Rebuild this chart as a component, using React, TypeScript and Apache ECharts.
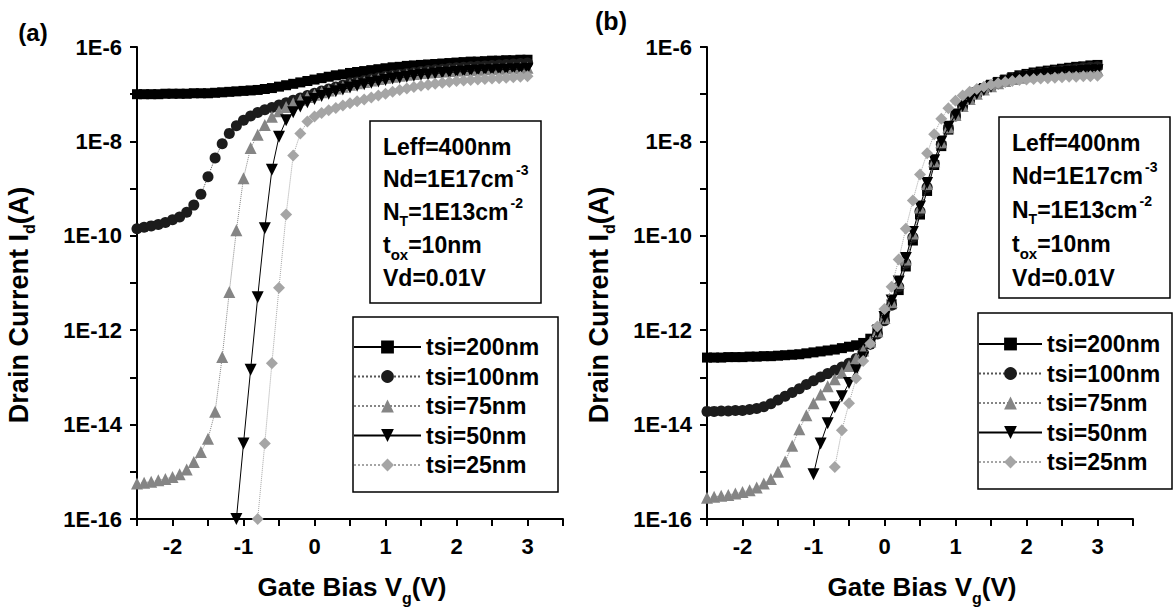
import React, { useEffect, useRef } from 'react';
import * as echarts from 'echarts';

// Gate bias (V)
const vg = [-2.5, -2.4, -2.3, -2.2, -2.1, -2.0, -1.9, -1.8, -1.7, -1.6, -1.5, -1.4, -1.3, -1.2, -1.1,
  -1.0, -0.9, -0.8, -0.7, -0.6, -0.5, -0.4, -0.3, -0.2, -0.1, 0, 0.1, 0.2, 0.3, 0.4, 0.5, 0.6, 0.7, 0.8,
  0.9, 1.0, 1.1, 1.2, 1.3, 1.4, 1.5, 1.6, 1.7, 1.8, 1.9, 2.0, 2.1, 2.2, 2.3, 2.4, 2.5, 2.6, 2.7, 2.8, 2.9, 3.0];

const seriesNames = ['tsi=200nm', 'tsi=100nm', 'tsi=75nm', 'tsi=50nm', 'tsi=25nm'];

// Panel (a): log10 of drain current (A)
const a200 = [-7.00, -7.00, -7.00, -7.00, -6.99, -6.99, -6.99, -6.99, -6.98, -6.98, -6.98, -6.97, -6.96, -6.95, -6.94,
  -6.93, -6.92, -6.91, -6.89, -6.87, -6.84, -6.81, -6.78, -6.75, -6.72, -6.69, -6.66, -6.63, -6.60, -6.58,
  -6.55, -6.53, -6.51, -6.49, -6.47, -6.45, -6.43, -6.42, -6.40, -6.39, -6.38, -6.37, -6.36, -6.35, -6.34,
  -6.33, -6.32, -6.31, -6.31, -6.30, -6.29, -6.29, -6.28, -6.28, -6.27, -6.27];
const a100 = [-9.85, -9.82, -9.79, -9.76, -9.72, -9.66, -9.60, -9.50, -9.35, -9.12, -8.75, -8.35, -8.05, -7.83, -7.67,
  -7.55, -7.46, -7.39, -7.33, -7.28, -7.23, -7.18, -7.13, -7.08, -7.03, -6.98, -6.93, -6.89, -6.85, -6.81,
  -6.77, -6.74, -6.71, -6.68, -6.65, -6.62, -6.60, -6.58, -6.56, -6.54, -6.52, -6.50, -6.48, -6.47, -6.45,
  -6.44, -6.43, -6.42, -6.41, -6.40, -6.39, -6.38, -6.37, -6.36, -6.35, -6.34];
const a75 = [-15.25, -15.23, -15.21, -15.18, -15.15, -15.11, -15.05, -14.95, -14.79, -14.58, -14.30, -13.73, -12.57, -11.19, -9.88,
  -8.78, -8.14, -7.86, -7.65, -7.48, -7.36, -7.27, -7.19, -7.12, -7.06, -7.01, -6.96, -6.92, -6.88, -6.84,
  -6.80, -6.77, -6.74, -6.71, -6.68, -6.65, -6.63, -6.61, -6.59, -6.57, -6.55, -6.54, -6.53, -6.52, -6.51,
  -6.50, -6.49, -6.48, -6.48, -6.47, -6.46, -6.46, -6.45, -6.45, -6.44, -6.44];
const a50 = [null, null, null, null, null, null, null, null, null, null, null, null, null, null,
  -16.0, -14.4, -12.84, -11.3, -9.84, -8.6, -7.9, -7.55, -7.38, -7.26, -7.17, -7.10, -7.04, -6.99, -6.94, -6.90,
  -6.86, -6.82, -6.79, -6.76, -6.73, -6.70, -6.67, -6.65, -6.63, -6.61, -6.59, -6.58, -6.56, -6.55, -6.54,
  -6.53, -6.52, -6.51, -6.50, -6.49, -6.49, -6.48, -6.48, -6.47, -6.47, -6.46];
const a25 = [null, null, null, null, null, null, null, null, null, null, null, null, null, null, null, null, null,
  -16.0, -14.4, -12.7, -11.1, -9.55, -8.3, -7.83, -7.58, -7.47, -7.40, -7.34, -7.29, -7.24,
  -7.19, -7.15, -7.11, -7.07, -7.03, -6.99, -6.95, -6.91, -6.88, -6.85, -6.82, -6.80, -6.78, -6.76, -6.74,
  -6.72, -6.71, -6.70, -6.69, -6.68, -6.67, -6.66, -6.65, -6.64, -6.63, -6.62];

// Panel (b): log10 of drain current (A)
const b200 = [-12.58, -12.58, -12.58, -12.57, -12.57, -12.57, -12.56, -12.56, -12.55, -12.55, -12.54, -12.53, -12.52, -12.51, -12.49,
  -12.47, -12.45, -12.43, -12.41, -12.38, -12.35, -12.32, -12.27, -12.18, -11.98, -11.70, -11.45, -11.15, -10.65, -10.10,
  -9.55, -9.05, -8.50, -8.10, -7.75, -7.45, -7.23, -7.08, -6.96, -6.87, -6.80, -6.74, -6.69, -6.64, -6.60,
  -6.57, -6.54, -6.52, -6.50, -6.48, -6.46, -6.44, -6.42, -6.41, -6.39, -6.38];
const b100 = [-13.72, -13.72, -13.71, -13.71, -13.70, -13.70, -13.68, -13.66, -13.62, -13.56, -13.48, -13.40, -13.32, -13.24, -13.15,
  -13.07, -12.99, -12.92, -12.85, -12.78, -12.70, -12.60, -12.47, -12.30, -12.08, -11.80, -11.47, -11.08, -10.58, -10.03,
  -9.48, -8.97, -8.47, -8.06, -7.73, -7.46, -7.25, -7.10, -6.98, -6.89, -6.82, -6.76, -6.71, -6.67, -6.63,
  -6.60, -6.57, -6.55, -6.53, -6.51, -6.49, -6.47, -6.46, -6.44, -6.43, -6.42];
const b75 = [-15.55, -15.53, -15.51, -15.49, -15.46, -15.43, -15.39, -15.33, -15.25, -15.15, -15.00, -14.78, -14.45, -14.10, -13.80,
  -13.55, -13.36, -13.19, -13.04, -12.90, -12.76, -12.60, -12.43, -12.24, -12.02, -11.74, -11.40, -11.00, -10.50, -9.95,
  -9.40, -8.90, -8.42, -8.02, -7.70, -7.44, -7.25, -7.10, -6.99, -6.90, -6.83, -6.77, -6.72, -6.68, -6.65,
  -6.62, -6.60, -6.58, -6.56, -6.54, -6.53, -6.52, -6.51, -6.50, -6.49, -6.48];
const b50 = [null, null, null, null, null, null, null, null, null, null, null, null, null, null, null,
  -15.05, -14.40, -13.97, -13.63, -13.40, -13.12, -12.85, -12.58, -12.30, -12.02, -11.72, -11.37, -10.97, -10.47, -9.92,
  -9.38, -8.88, -8.40, -8.00, -7.69, -7.43, -7.25, -7.10, -6.99, -6.91, -6.84, -6.78, -6.73, -6.69, -6.66,
  -6.63, -6.61, -6.59, -6.57, -6.55, -6.54, -6.53, -6.52, -6.51, -6.50, -6.49];
const b25 = [null, null, null, null, null, null, null, null, null, null, null, null, null, null, null, null, null, null,
  -14.90, -14.12, -13.55, -13.02, -12.65, -12.28, -11.92, -11.55, -11.08, -10.50, -9.85, -9.25,
  -8.70, -8.25, -7.85, -7.52, -7.30, -7.14, -7.03, -6.95, -6.89, -6.84, -6.80, -6.77, -6.74, -6.72, -6.70,
  -6.69, -6.68, -6.67, -6.66, -6.65, -6.64, -6.63, -6.63, -6.62, -6.62, -6.61];

const FONT = '"Liberation Sans", Arial, Helvetica, sans-serif';

const STY = [
  { symbol: 'rect', size: 10, rot: 0, fill: '#000000', line: '#000000', type: 'solid' },
  { symbol: 'circle', size: 11, rot: 0, fill: '#1c1c1c', line: '#555555', type: 'dotted' },
  { symbol: 'triangle', size: 12, rot: 0, fill: '#858585', line: '#858585', type: 'dotted' },
  { symbol: 'triangle', size: 12, rot: 180, fill: '#000000', line: '#000000', type: 'solid' },
  { symbol: 'diamond', size: 12, rot: 0, fill: '#a5a5a5', line: '#a5a5a5', type: 'dotted' },
];

type Part = { t: string; s: number; dy?: number; dx?: number };

let measureCtx: CanvasRenderingContext2D | null = null;
function measure(t: string, size: number): number {
  if (!measureCtx) measureCtx = document.createElement('canvas').getContext('2d');
  if (!measureCtx) return t.length * size * 0.6;
  measureCtx.font = `bold ${size}px ${FONT}`;
  return measureCtx.measureText(t).width;
}

function run(parts: Part[], x0: number, y: number, align: 'left' | 'center'): any[] {
  const widths = parts.map((p) => measure(p.t, p.s) + (p.dx || 0));
  const total = widths.reduce((a, b) => a + b, 0);
  let x = align === 'center' ? x0 - total / 2 : x0;
  return parts.map((p, i) => {
    const el = {
      type: 'text',
      x: x + (p.dx || 0),
      y: y + (p.dy || 0),
      style: {
        text: p.t,
        font: `bold ${p.s}px ${FONT}`,
        fill: '#000',
        textAlign: 'left',
        textVerticalAlign: 'middle',
        align: 'left',
        verticalAlign: 'middle',
      },
    };
    x += widths[i];
    return el;
  });
}

function buildSeries(sets: (number | null)[][], gi: number) {
  return sets.map((logs, k) => ({
    type: 'line',
    name: seriesNames[k],
    xAxisIndex: gi,
    yAxisIndex: gi,
    data: vg.map((x, i) => [x, logs[i]]).filter((p) => p[1] !== null),
    symbol: STY[k].symbol,
    symbolSize: STY[k].size,
    symbolRotate: STY[k].rot,
    showSymbol: true,
    showAllSymbol: true,
    clip: false,
    itemStyle: { color: STY[k].fill, opacity: 1 },
    lineStyle: { color: STY[k].line, width: 1, type: STY[k].type },
    emphasis: { disabled: true },
    z: 2 + k,
  }));
}

function xAxisFor(gi: number) {
  return {
    gridIndex: gi,
    type: 'value',
    min: -2.5,
    max: 3.5,
    interval: 0.5,
    axisLine: { show: true, onZero: false, lineStyle: { color: '#000', width: 2 } },
    axisTick: { show: true, inside: false, length: 7, lineStyle: { color: '#000', width: 2 } },
    axisLabel: {
      formatter: (v: number) => (Math.abs(v - Math.round(v)) < 1e-9 ? String(Math.round(v)) : ''),
      color: '#000',
      fontWeight: 'bold',
      fontSize: 22,
      fontFamily: FONT,
      margin: 16,
    },
    splitLine: { show: false },
  };
}

function yAxisFor(gi: number) {
  return {
    gridIndex: gi,
    type: 'value',
    min: -16,
    max: -6,
    interval: 1,
    axisLine: { show: true, onZero: false, lineStyle: { color: '#000', width: 2 } },
    axisTick: { show: true, inside: false, length: 7, lineStyle: { color: '#000', width: 2 } },
    axisLabel: {
      formatter: (v: number) => {
        const e = Math.round(v);
        return e % 2 === 0 ? '1E' + e : '';
      },
      color: '#000',
      fontWeight: 'bold',
      fontSize: 22,
      fontFamily: FONT,
      margin: 15,
    },
    splitLine: { show: false },
  };
}

function legendFor(left: number, top: number, itemWidth: number) {
  return {
    orient: 'vertical',
    left,
    top,
    itemWidth,
    itemHeight: 16,
    itemGap: 6.5,
    padding: 0,
    selectedMode: false,
    data: seriesNames,
    textStyle: { fontSize: 23, fontWeight: 'bold', fontFamily: FONT, color: '#000' },
  };
}

function infoBox(x: number, lineYs: number[]): any[] {
  const lines: Part[][] = [
    [{ t: 'Leff=400nm', s: 23 }],
    [{ t: 'Nd=1E17cm', s: 23 }, { t: '-3', s: 14, dy: -9, dx: 2 }],
    [{ t: 'N', s: 23 }, { t: 'T', s: 14, dy: 9 }, { t: '=1E13cm', s: 23 }, { t: '-2', s: 14, dy: -9, dx: 2 }],
    [{ t: 't', s: 23 }, { t: 'ox', s: 15, dy: 9 }, { t: '=10nm', s: 23 }],
    [{ t: 'Vd=0.01V', s: 23 }],
  ];
  const out: any[] = [];
  lines.forEach((ln, i) => out.push(...run(ln, x, lineYs[i], 'left')));
  return out;
}

function rectEl(x: number, y: number, w: number, h: number) {
  return {
    type: 'rect',
    shape: { x, y, width: w, height: h },
    style: { fill: 'rgba(0,0,0,0)', stroke: '#000', lineWidth: 1.5 },
    z: 20,
  };
}

function App() {
  const ref = useRef<HTMLDivElement>(null);
  useEffect(() => {
    if (!ref.current) return;
    const chart = echarts.init(ref.current, undefined, { renderer: 'svg' });
    const xTitle: Part[] = [{ t: 'Gate Bias V', s: 26 }, { t: 'g', s: 16, dy: 11 }, { t: '(V)', s: 26 }];
    const yTitle: Part[] = [{ t: 'Drain Current I', s: 27 }, { t: 'd', s: 16, dy: 10 }, { t: '(A)', s: 27 }];
    const graphics: any[] = [
      ...run([{ t: '(a)', s: 24 }], 33, 32, 'center'),
      ...run([{ t: '(b)', s: 25 }], 611, 21, 'center'),
      ...run(xTitle, 352, 587, 'center'),
      ...run(xTitle, 922, 587, 'center'),
      { type: 'group', x: 19, y: 305, rotation: Math.PI / 2, children: run(yTitle, 0, 0, 'center') },
      { type: 'group', x: 599, y: 305, rotation: Math.PI / 2, children: run(yTitle, 0, 0, 'center') },
      rectEl(370, 121, 171, 182),
      rectEl(999, 117, 171, 181),
      rectEl(353, 317, 205, 175),
      rectEl(978, 313, 194, 176),
      ...infoBox(383, [147, 179, 212, 245, 278]),
      ...infoBox(1012, [143, 176, 210, 244, 278]),
    ].map((g) => ({ z: 20, ...g }));

    const option: any = {
      animation: false,
      backgroundColor: '#ffffff',
      grid: [
        { left: 137, top: 47, width: 426, height: 472, containLabel: false },
        { left: 707, top: 47, width: 426, height: 472, containLabel: false },
      ],
      xAxis: [xAxisFor(0), xAxisFor(1)],
      yAxis: [yAxisFor(0), yAxisFor(1)],
      legend: [legendFor(353, 335.5, 67), legendFor(978, 332.5, 63)],
      series: [
        ...buildSeries([a200, a100, a75, a50, a25], 0),
        ...buildSeries([b200, b100, b75, b50, b25], 1),
      ],
      graphic: { elements: graphics },
    };
    chart.setOption(option);
    return () => chart.dispose();
  }, []);
  return (
    <div
      ref={ref}
      style={{ position: 'fixed', left: 0, top: 0, width: 1173, height: 609, background: '#fff' }}
    />
  );
}

export default App;
